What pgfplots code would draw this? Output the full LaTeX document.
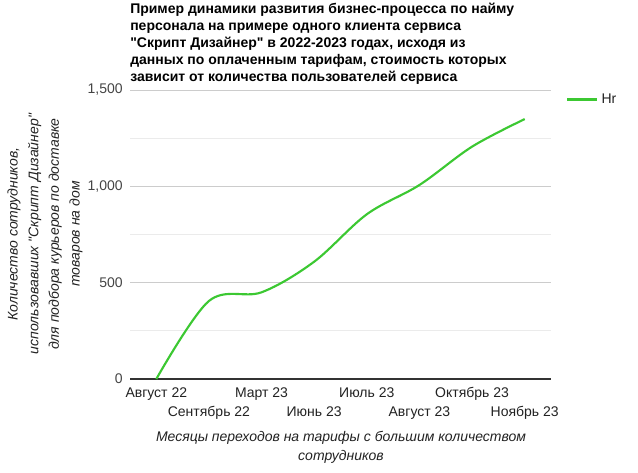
\documentclass[border=0pt]{standalone}
\usepackage{fontspec}
\setmainfont{Liberation Sans}
\usepackage{pgfplots}
\pgfplotsset{compat=1.18}
\definecolor{hrgreen}{RGB}{60,200,50}
\definecolor{tickgray}{RGB}{68,68,68}
\definecolor{labelgray}{RGB}{34,34,34}
\definecolor{majgrid}{RGB}{204,204,204}
\definecolor{mingrid}{RGB}{235,235,235}
\begin{document}
\begin{tikzpicture}
\useasboundingbox (0pt,0pt) rectangle (478.5pt,354pt);
\begin{axis}[
    at={(97.5pt,69.75pt)}, anchor=south west,
    scale only axis, width=315.75pt, height=216.75pt,
    xmin=-0.5, xmax=7.5, ymin=0, ymax=1500,
    axis x line*=bottom, axis y line*=left,
    x axis line style={draw={rgb,255:red,51;green,51;blue,51}, line width=1pt},
    y axis line style={draw=none},
    major tick length=0pt, minor tick length=0pt,
    xtick={0,...,7},
    xticklabels={\strut Август 22, {\strut\\\strut Сентябрь 22}, \strut Март 23, {\strut\\\strut Июнь 23},
        \strut Июль 23, {\strut\\\strut Август 23}, \strut Октябрь 23, {\strut\\\strut Ноябрь 23}},
    xticklabel style={align=center, anchor=north, inner sep=0pt, yshift=-3.5pt,
        font=\fontsize{10.5}{14.25}\selectfont, text=labelgray},
    ytick={0,500,1000,1500},
    minor ytick={250,750,1250},
    ymajorgrids, yminorgrids,
    major grid style={majgrid, line width=0.75pt},
    minor grid style={mingrid, line width=0.75pt},
    yticklabel style={font=\fontsize{10.5}{12}\selectfont, text=tickgray, xshift=-2pt},
    /pgf/number format/.cd, 1000 sep={,}, assume math mode=true, /pgfplots/.cd,
    legend style={at={(1,1)}, anchor=north west, xshift=8pt, yshift=1.5pt,
        draw=none, fill=none, font=\fontsize{10.5}{12}\selectfont, text=labelgray},
    legend image code/.code={\draw[#1, line width=2.2pt] (0pt,0pt) -- (22.5pt,0pt);},
]
\addplot[hrgreen, line width=1.6pt, smooth, tension=0.55] coordinates {
    (0,0) (1,405) (2,450) (3,609) (4,855) (5,1007) (6,1206) (7,1349)};
\addlegendentry{Hr}
\end{axis}
\node[anchor=north west, inner sep=0pt, align=left,
    font=\bfseries\fontsize{10.5}{12.75}\selectfont] at (97.5pt,351.75pt)
    {Пример динамики развития бизнес-процесса по найму\\
     персонала на примере одного клиента сервиса\\
     \textquotedbl Скрипт Дизайнер\textquotedbl{} в 2022-2023 годах, исходя из\\
     данных по оплаченным тарифам, стоимость которых\\
     зависит от количества пользователей сервиса};
\node[rotate=90, anchor=center, inner sep=0pt, align=center, text=labelgray,
    font=\itshape\fontsize{10.5}{15.5}\selectfont] at (33.75pt,178.5pt)
    {Количество сотрудников,\\
     использовавших \textquotedbl Скрипт Дизайнер\textquotedbl\\
     для подбора курьеров по доставке\\
     товаров на дом};
\node[anchor=center, inner sep=0pt, align=center, text=labelgray,
    font=\itshape\fontsize{10.5}{14.25}\selectfont] at (255.75pt,18.75pt)
    {Месяцы переходов на тарифы с большим количеством\\
     сотрудников};
\end{tikzpicture}
\end{document}
